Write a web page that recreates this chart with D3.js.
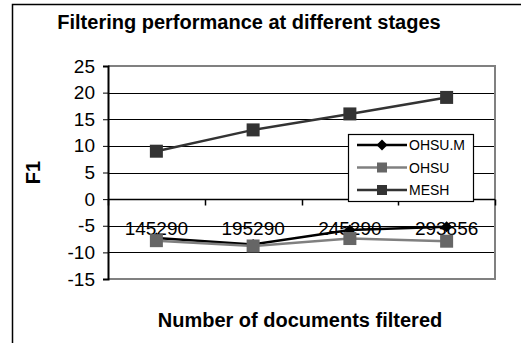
<!DOCTYPE html>
<html>
<head>
<meta charset="utf-8">
<script src="https://cdn.jsdelivr.net/npm/d3@7"></script>
<style>
  html, body { margin: 0; padding: 0; background: #fff; }
  svg { display: block; font-family: "Liberation Sans", Arial, sans-serif; }
</style>
</head>
<body>
<svg id="chart" width="521" height="343"></svg>
<script>
// Documents filtered at each stage
const categories = ["145290", "195290", "245290", "293856"];
// F1 per series
const ohsuM = [-7.3, -8.5, -5.8, -5.2];
const ohsu = [-7.8, -8.8, -7.4, -7.9];
const mesh = [9.0, 13.0, 16.0, 19.1];
const yTicks = [25, 20, 15, 10, 5, 0, -5, -10, -15];

const series = [
  { name: "OHSU.M", values: ohsuM, line: "#000000", fill: "#000000", shape: "diamond" },
  { name: "OHSU", values: ohsu, line: "#808080", fill: "#666666", shape: "square" },
  { name: "MESH", values: mesh, line: "#333333", fill: "#333333", shape: "square" }
];

const svg = d3.select("#chart");
const plot = { left: 108, right: 495, top: 66, bottom: 279 };

const x = d3.scaleBand().domain(categories).range([plot.left, plot.right]);
const y = d3.scaleLinear().domain([-15, 25]).range([plot.bottom, plot.top]);

// Outer chart frame (runs off the right and bottom edges)
svg.append("path")
  .attr("d", "M12.5,343 L12.5,4.5 L521,4.5")
  .attr("fill", "none").attr("stroke", "#000").attr("stroke-width", 1.5);

// Title
svg.append("text")
  .attr("x", 249).attr("y", 29)
  .attr("text-anchor", "middle")
  .attr("font-weight", "bold").attr("font-size", 20)
  .text("Filtering performance at different stages");

// Horizontal gridlines
svg.append("g").selectAll("line")
  .data(yTicks.filter(v => v !== 25 && v !== -15))
  .join("line")
  .attr("x1", plot.left).attr("x2", plot.right)
  .attr("y1", d => Math.round(y(d)) + 0.5).attr("y2", d => Math.round(y(d)) + 0.5)
  .attr("stroke", "#000").attr("stroke-width", 1);

// Plot area border (top, right, bottom)
svg.append("path")
  .attr("d", `M${plot.left},${plot.top} L${plot.right},${plot.top} L${plot.right},${plot.bottom} L${plot.left},${plot.bottom}`)
  .attr("fill", "none").attr("stroke", "#808080").attr("stroke-width", 2);

// Y axis
const yAxis = svg.append("g")
  .attr("transform", `translate(${plot.left},0)`)
  .call(d3.axisLeft(y).tickValues(yTicks).tickSize(5).tickPadding(8).tickFormat(d3.format("d")));
yAxis.select(".domain").attr("stroke", "#000").attr("stroke-width", 2);
yAxis.selectAll(".tick line").attr("stroke", "#000");
yAxis.selectAll("text")
  .attr("font-size", 19).attr("fill", "#000")
  .attr("font-family", "'Liberation Sans', Arial, sans-serif")
  .text(d => d < 0 ? "-" + Math.abs(d) : d);

// Category axis on the zero line
const y0 = Math.round(y(0)) + 0.5;
svg.append("line")
  .attr("x1", plot.left).attr("x2", plot.right)
  .attr("y1", y0).attr("y2", y0)
  .attr("stroke", "#000").attr("stroke-width", 1.5);
const bounds = categories.map(c => x(c)).concat([plot.right]);
svg.append("g").selectAll("line").data(bounds).join("line")
  .attr("x1", d => Math.round(d) + 0.5).attr("x2", d => Math.round(d) + 0.5)
  .attr("y1", y0).attr("y2", y0 + 6)
  .attr("stroke", "#000").attr("stroke-width", 1.5);
svg.append("g").selectAll("text").data(categories).join("text")
  .attr("x", d => x(d) + x.bandwidth() / 2)
  .attr("y", y0 + 35)
  .attr("text-anchor", "middle")
  .attr("font-size", 19)
  .text(d => d);

// Axis titles
svg.append("text")
  .attr("transform", `translate(40,${(plot.top + plot.bottom) / 2}) rotate(-90)`)
  .attr("text-anchor", "middle")
  .attr("font-weight", "bold").attr("font-size", 20)
  .text("F1");
svg.append("text")
  .attr("x", 300).attr("y", 327)
  .attr("text-anchor", "middle")
  .attr("font-weight", "bold").attr("font-size", 20)
  .text("Number of documents filtered");

// Series lines and markers
const cx = d => x(d) + x.bandwidth() / 2;
const lineGen = d3.line().x((v, i) => cx(categories[i])).y(v => y(v));
function marker(g, shape, fill, px, py, size) {
  if (shape === "diamond") {
    const s = size / 2;
    g.append("path")
      .attr("d", `M${px},${py - s} L${px + s},${py} L${px},${py + s} L${px - s},${py} Z`)
      .attr("fill", fill);
  } else {
    g.append("rect")
      .attr("x", px - size / 2).attr("y", py - size / 2)
      .attr("width", size).attr("height", size)
      .attr("fill", fill);
  }
}
series.forEach(s => {
  const g = svg.append("g");
  g.append("path")
    .attr("d", lineGen(s.values))
    .attr("fill", "none").attr("stroke", s.line).attr("stroke-width", 2.5);
  s.values.forEach((v, i) => {
    marker(g, s.shape, s.fill, cx(categories[i]), y(v), s.shape === "diamond" ? 11 : 13);
  });
});

// Legend
const legend = svg.append("g");
legend.append("rect")
  .attr("x", 348.5).attr("y", 134.5).attr("width", 125).attr("height", 67)
  .attr("fill", "#fff").attr("stroke", "#000").attr("stroke-width", 1.2);
series.forEach((s, i) => {
  const ly = 145 + i * 22.5;
  legend.append("line")
    .attr("x1", 357).attr("x2", 407).attr("y1", ly).attr("y2", ly)
    .attr("stroke", s.line).attr("stroke-width", 2.5);
  marker(legend, s.shape, s.fill, 382, ly, s.shape === "diamond" ? 11 : 10);
  legend.append("text")
    .attr("x", 409).attr("y", ly + 5)
    .attr("font-size", 14)
    .text(s.name);
});
</script>
</body>
</html>
